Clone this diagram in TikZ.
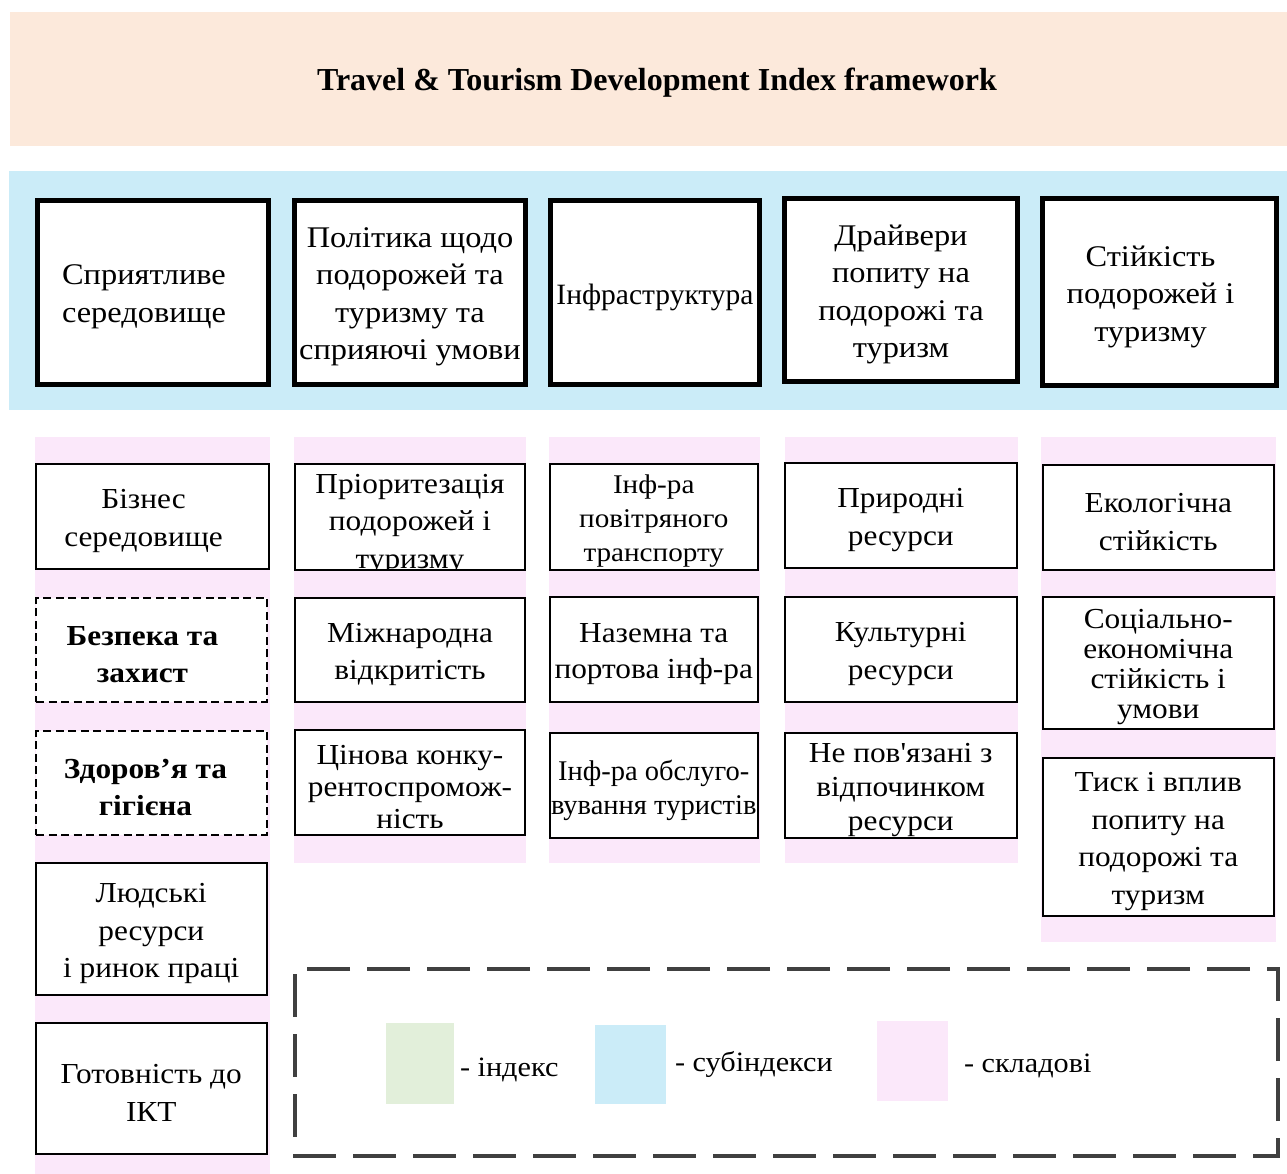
\documentclass[tikz,border=0pt]{standalone}
\usepackage{fontspec}
\setmainfont{Liberation Serif}[Ligatures=TeXOff, FakeStretch=1.08]
\newfontfamily\plainserif{Liberation Serif}[Ligatures=TeXOff]
\begin{document}
\begin{tikzpicture}[x=1pt,y=-1pt,
  every node/.style={inner sep=0pt, outer sep=0pt, align=center},
  txt/.style={font=\fontsize{29}{37.5}\selectfont},
  toptxt/.style={font=\fontsize{30}{37.5}\selectfont},
  lbl/.style={yshift=-4.5pt},
  topbox/.style={draw=black, line width=4.6pt, fill=white},
  subbox/.style={draw=black, line width=2.4pt, fill=white},
  dashbox/.style={subbox, dash pattern=on 8pt off 4.5pt},
  boldtxt/.style={font=\fontsize{29}{37.5}\selectfont\bfseries},
  legendtxt/.style={font=\fontsize{28}{34}\selectfont, anchor=base west}
]
\definecolor{peach}{RGB}{252,233,219}
\definecolor{skyband}{RGB}{203,236,248}
\definecolor{pinkcol}{RGB}{251,232,250}
\definecolor{greenidx}{RGB}{226,239,218}
\definecolor{legendline}{RGB}{64,64,64}

\useasboundingbox (0,0) rectangle (1287,1174);

% index band and sub-index band
\fill[peach] (10,12) rectangle (1287,146);
\node[font=\plainserif\fontsize{32}{38}\selectfont\bfseries] (title) at (657,83) {Travel \& Tourism Development Index framework};
\fill[skyband] (9,171) rectangle (1287,410);

% component strips behind each column
\fill[pinkcol] (35,437) rectangle (270,1174);
\fill[pinkcol] (294,437) rectangle (526,863);
\fill[pinkcol] (549,437) rectangle (759.5,863);
\fill[pinkcol] (785,437) rectangle (1018,863);
\fill[pinkcol] (1041,437) rectangle (1276,942);

% sub-indices
\node[topbox, minimum width=231, minimum height=184] (s1) at (153,292.5) {};
\node[toptxt, lbl, xshift=-9pt] (s1t) at (s1) {Сприятливе\\середовище};
\node[topbox, minimum width=231, minimum height=184] (s2) at (410,292.5) {};
\node[toptxt, lbl] (s2t) at (s2) {Політика щодо\\подорожей та\\туризму та\\сприяючі умови};
\node[topbox, minimum width=208.5, minimum height=184] (s3) at (655,292.5) {};
\node[lbl, font=\plainserif\fontsize{29.5}{37.5}\selectfont] (s3t) at (s3) {Інфраструктура};
\node[topbox, minimum width=233, minimum height=183] (s4) at (901,290) {};
\node[toptxt, lbl] (s4t) at (s4) {Драйвери\\попиту на\\подорожі та\\туризм};
\node[topbox, minimum width=234, minimum height=187] (s5) at (1159.5,292) {};
\node[toptxt, lbl, xshift=-9pt] (s5t) at (s5) {Стійкість\\подорожей і\\туризму};

% column 1
\node[subbox, minimum width=232.6, minimum height=104.6] (c1a) at (152.5,516.5) {};
\node[txt, lbl, xshift=-9pt] (c1at) at (c1a) {Бізнес\\середовище};
\node[dashbox, minimum width=230.6, minimum height=103.6] (c1b) at (151.5,650) {};
\node[boldtxt, lbl, xshift=-9pt] (c1bt) at (c1b) {Безпека та\\захист};
\node[dashbox, minimum width=230.6, minimum height=103.6] (c1c) at (151.5,783) {};
\node[boldtxt, lbl, xshift=-6pt] (c1ct) at (c1c) {Здоров’я та\\гігієна};
\node[subbox, minimum width=231, minimum height=131.6] (c1d) at (151.25,929) {};
\node[txt, lbl] (c1dt) at (c1d) {Людські\\ресурси\\і ринок праці};
\node[subbox, minimum width=231, minimum height=130.6] (c1e) at (151.25,1088.5) {};
\node[txt, lbl] (c1et) at (c1e) {Готовність до\\ІКТ};

% column 2
\node[subbox, minimum width=229.6, minimum height=105.6] (c2a) at (410,517) {};
\begin{scope}
  \clip (296,465) rectangle (524,568);
  \node[txt, anchor=north] (c2at) at (410,474) {Пріоритезація\\подорожей і\\туризму};
\end{scope}
\draw[line width=2.4pt] (c2a.north west) rectangle (c2a.south east);
\node[subbox, minimum width=229.6, minimum height=103.6] (c2b) at (410,650) {};
\node[txt, lbl] (c2bt) at (c2b) {Міжнародна\\відкритість};
\node[subbox, minimum width=229.6, minimum height=104.6] (c2c) at (410,782.5) {};
\node[lbl, font=\fontsize{29}{32}\selectfont] (c2ct) at (c2c) {Цінова конку-\\рентоспромож-\\ність};

% column 3
\node[subbox, minimum width=208, minimum height=105.6] (c3a) at (653.75,517) {};
\node[lbl, font=\fontsize{27}{34}\selectfont] (c3at) at (c3a) {Інф-ра\\повітряного\\транспорту};
\node[subbox, minimum width=208, minimum height=104.6] (c3b) at (653.75,649.5) {};
\node[lbl, font=\fontsize{29}{36}\selectfont] (c3bt) at (c3b) {Наземна та\\портова інф-ра};
\node[subbox, minimum width=208, minimum height=104.6] (c3c) at (653.75,785.5) {};
\node[lbl, font=\plainserif\fontsize{28.5}{34}\selectfont] (c3ct) at (c3c) {Інф-ра обслуго-\\вування туристів};

% column 4
\node[subbox, minimum width=232, minimum height=104.6] (c4a) at (900.75,515.5) {};
\node[txt, lbl] (c4at) at (c4a) {Природні\\ресурси};
\node[subbox, minimum width=232, minimum height=104.6] (c4b) at (900.75,649.5) {};
\node[txt, lbl] (c4bt) at (c4b) {Культурні\\ресурси};
\node[subbox, minimum width=232, minimum height=104.6] (c4c) at (900.75,785.5) {};
\node[lbl, font=\fontsize{29}{34}\selectfont] (c4ct) at (c4c) {Не пов'язані з\\відпочинком\\ресурси};

% column 5
\node[subbox, minimum width=231, minimum height=104.6] (c5a) at (1158.25,517.5) {};
\node[txt, lbl] (c5at) at (c5a) {Екологічна\\стійкість};
\node[subbox, minimum width=231, minimum height=131.6] (c5b) at (1158.25,663) {};
\node[lbl, font=\fontsize{29}{30}\selectfont] (c5bt) at (c5b) {Соціально-\\економічна\\стійкість і\\умови};
\node[subbox, minimum width=231, minimum height=157.6] (c5c) at (1158.25,837) {};
\node[txt, lbl] (c5ct) at (c5c) {Тиск і вплив\\попиту на\\подорожі та\\туризм};

% legend
\draw[legendline, line width=4.7pt, dash pattern=on 43pt off 17pt, dash phase=-5pt] (295,969) rectangle (1278,1156);
\fill[greenidx] (386,1023) rectangle (454,1104);
\node[legendtxt] (l1) at (460,1076) {- індекс};
\fill[skyband] (595,1025) rectangle (665.6,1104);
\node[legendtxt] (l2) at (675,1071) {- субіндекси};
\fill[pinkcol] (877,1021) rectangle (948,1101);
\node[legendtxt] (l3) at (964,1072) {- складові};
\end{tikzpicture}
\end{document}
